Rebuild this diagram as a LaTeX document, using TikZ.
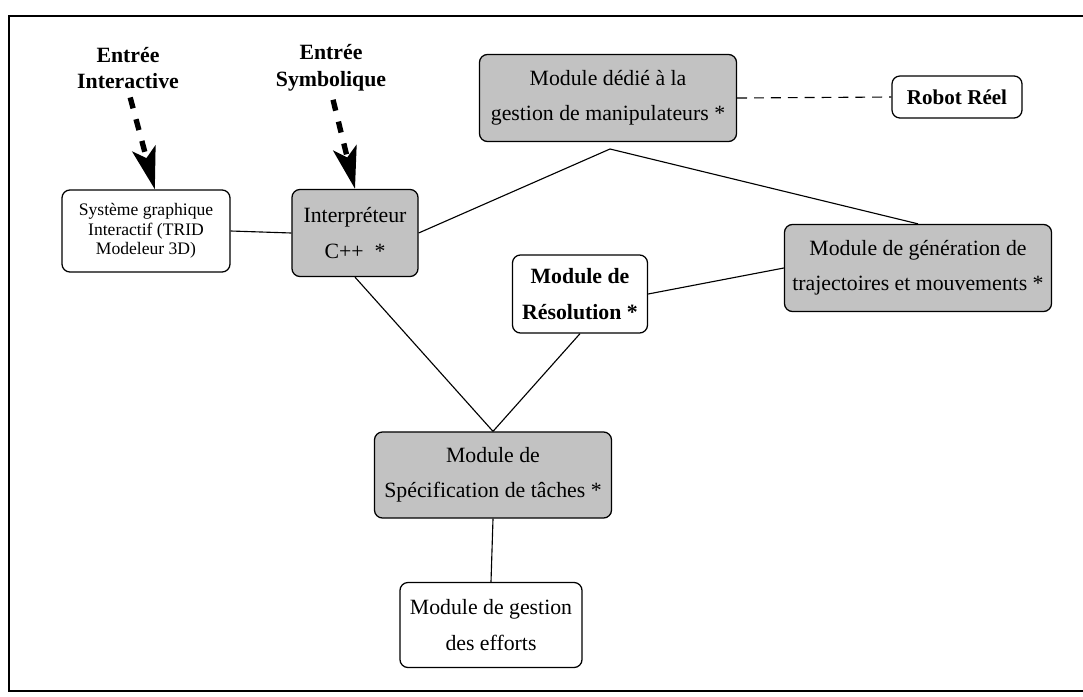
\documentclass[tikz,border=0pt]{standalone}
\usepackage{fontspec}
\setmainfont{Liberation Serif}
\usetikzlibrary{arrows.meta}
\tikzset{
	modbox/.style={draw, rounded corners=0.2cm, line width=0.9pt, align=center, inner sep=0pt, font=\fontsize{15.5}{25}\selectfont},
	greybox/.style={modbox, fill=black!24},
	inlabel/.style={align=center, inner sep=0pt, font=\bfseries\fontsize{15.5}{19}\selectfont},
	inarrow/.style={line width=3.8pt, dash pattern=on 8pt off 8pt, -{Stealth[length=30pt, width=17pt, inset=7pt]}},
	link/.style={line width=0.8pt}
}

\begin{document}
\begin{tikzpicture}[x=0.025cm, y=-0.025cm]
		%%%%% START %%%%%
		\useasboundingbox (0, 0) rectangle (1083, 696);
		\draw[line width=1pt] (1083, 16) -- (9, 16) -- (9, 691) -- (1083, 691);
		
		\node[inlabel] (entint) at (128, 68) {Entrée\\Interactive};
		\node[inlabel] (entsym) at (331, 68) {Entrée\\Symbolique};
		
		\node[modbox, minimum width=4.2cm, minimum height=2.05cm, font=\fontsize{12.5}{13.8}\selectfont] (sysgraph) at (146, 231) {Système graphique\\Interactif (TRID\\Modeleur 3D)};
		\node[greybox, minimum width=3.15cm, minimum height=2.175cm] (interp) at (355, 233) {Interpréteur\\C++ \ *};
		\node[greybox, minimum width=6.425cm, minimum height=2.175cm] (dedie) at (608, 98) {Module dédié à la\\gestion de manipulateurs *};
		\node[modbox, minimum width=3.25cm, minimum height=1.05cm, font=\bfseries\fontsize{15}{19}\selectfont] (robot) at (957, 97) {Robot Réel};
		\node[greybox, minimum width=6.675cm, minimum height=2.175cm] (gener) at (918, 268) {Module de génération de\\trajectoires et mouvements *};
		\node[modbox, minimum width=3.375cm, minimum height=1.95cm, font=\bfseries\fontsize{15.5}{25}\selectfont] (resol) at (580, 294) {Module de\\Résolution *};
		\node[greybox, minimum width=5.925cm, minimum height=2.15cm] (specif) at (493, 475) {Module de\\Spécification de tâches *};
		\node[modbox, minimum width=4.55cm, minimum height=2.125cm] (efforts) at (491, 625) {Module de gestion\\des efforts};
		
		\coordinate (apex) at (610, 149);
		
		\draw[inarrow, shorten <=6pt] (entint.south) -- (sysgraph.78);
		\draw[inarrow, shorten <=6pt] (entsym.south) -- (interp.north);
		
		\draw[link] (sysgraph.east) -- (interp.west);
		\draw[link] (interp.east) -- (apex) -- (gener.north);
		\draw[link, dashed, dash pattern=on 7pt off 5pt] (dedie.east) -- (robot.west);
		\draw[link] (interp.south) -- (specif.north);
		\draw[link] (resol.south) -- (specif.north);
		\draw[link] (resol.east) -- (gener.west);
		\draw[link] (specif.south) -- (efforts.north);
		
		%%%%% END %%%%%
\end{tikzpicture}
\end{document}
